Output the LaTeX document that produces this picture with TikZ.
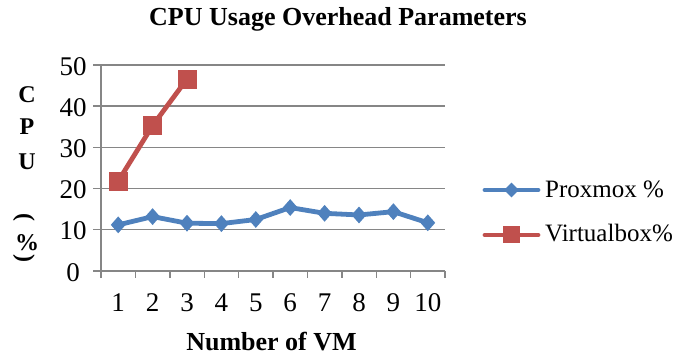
\documentclass[tikz,border=0pt]{standalone}
\usepackage{fontspec}
\setmainfont{Liberation Serif}
\usetikzlibrary{shapes.geometric}
\definecolor{pxblue}{HTML}{4F81BD}
\definecolor{vbred}{HTML}{C0504D}
\definecolor{gridgray}{HTML}{868686}
\begin{document}
\begin{tikzpicture}[x=1pt,y=1pt,
  gridline/.style={draw=gridgray, line width=1.4pt},
  pxline/.style={draw=pxblue, line width=4.8pt, line join=round, line cap=round},
  vbline/.style={draw=vbred, line width=4.8pt, line join=round, line cap=round},
  pxmark/.style={diamond, fill=pxblue, inner sep=0pt, minimum width=15pt, minimum height=17pt},
  vbmark/.style={rectangle, fill=vbred, inner sep=0pt, minimum size=19pt},
  ticklab/.style={font=\fontsize{27}{30}\selectfont, inner sep=0pt},
  legtext/.style={font=\fontsize{25}{30}\selectfont, inner sep=0pt, anchor=base west},
  boldtitle/.style={font=\bfseries\fontsize{26}{30}\selectfont, inner sep=0pt, anchor=base},
  ylet/.style={font=\bfseries\fontsize{24}{28}\selectfont, inner sep=0pt}]
\useasboundingbox (0,0) rectangle (679,356);
\node[boldtitle] (title) at (338,330) {CPU Usage Overhead Parameters};
\node[boldtitle] (xtitle) at (271.5,6) {Number of VM};
\node[ylet, anchor=base] (yc) at (27,253) {C};
\node[ylet, anchor=base] (yp) at (27,221) {P};
\node[ylet, anchor=base] (yu) at (27,186) {U};
\node[ylet, rotate=-90] (ylp) at (24,139) {(};
\node[ylet, anchor=base] (ypc) at (27,106) {\%};
\node[ylet, rotate=-90] (yrp) at (24,98) {)};
\begin{scope}[shift={(101,85)}, x=34.4pt, y=4.12pt]
  \foreach \v in {10,20,30,40,50} \draw[gridline] (0,\v) -- (10,\v);
  \foreach \v in {0,10,20,30,40,50} \draw[gridline] (-0.23,\v) -- (0,\v);
  \draw[gridline] (-0.23,0) -- (10,0);
  \draw[gridline] (0,-1.7) -- (0,50);
  \foreach \i in {1,...,10} \draw[gridline] (\i,0) -- (\i,-1.7);
  \foreach \v in {10,20,30,40,50} \node[ticklab, anchor=base east] (yl\v) at ({-0.41},{\v-2.43}) {\v};
  \node[ticklab, anchor=base east] (yl0) at ({-0.61},{-2.43}) {0};
  \foreach \i in {1,...,10} \node[ticklab, anchor=base] (xl\i) at ({\i-0.5},-9.88) {\i};
  \coordinate (p1) at (0.5,11.2);
  \coordinate (p2) at (1.5,13.2);
  \coordinate (p3) at (2.5,11.6);
  \coordinate (p4) at (3.5,11.5);
  \coordinate (p5) at (4.5,12.5);
  \coordinate (p6) at (5.5,15.4);
  \coordinate (p7) at (6.5,14.0);
  \coordinate (p8) at (7.5,13.6);
  \coordinate (p9) at (8.5,14.4);
  \coordinate (p10) at (9.5,11.7);
  \coordinate (v1) at (0.5,21.8);
  \coordinate (v2) at (1.5,35.3);
  \coordinate (v3) at (2.5,46.6);
  \draw[pxline] (p1) -- (p2) -- (p3) -- (p4) -- (p5) -- (p6) -- (p7) -- (p8) -- (p9) -- (p10);
  \draw[vbline] (v1) -- (v2) -- (v3);
  \foreach \i in {1,...,10} \node[pxmark] (mp\i) at (p\i) {};
  \foreach \i in {1,2,3} \node[vbmark] (mv\i) at (v\i) {};
\end{scope}
\coordinate (lgpa) at (485,166);
\coordinate (lgpb) at (538,166);
\draw[pxline] (lgpa) -- (lgpb);
\node[pxmark, minimum height=15pt] (lgpm) at (511.5,166) {};
\node[legtext] (lgpt) at (545,158) {Proxmox \%};
\coordinate (lgva) at (485,121);
\coordinate (lgvb) at (538,121);
\draw[vbline] (lgva) -- (lgvb);
\node[vbmark, minimum size=17pt] (lgvm) at (511.5,121) {};
\node[legtext] (lgvt) at (545,114) {Virtualbox\%};
\end{tikzpicture}
\end{document}
